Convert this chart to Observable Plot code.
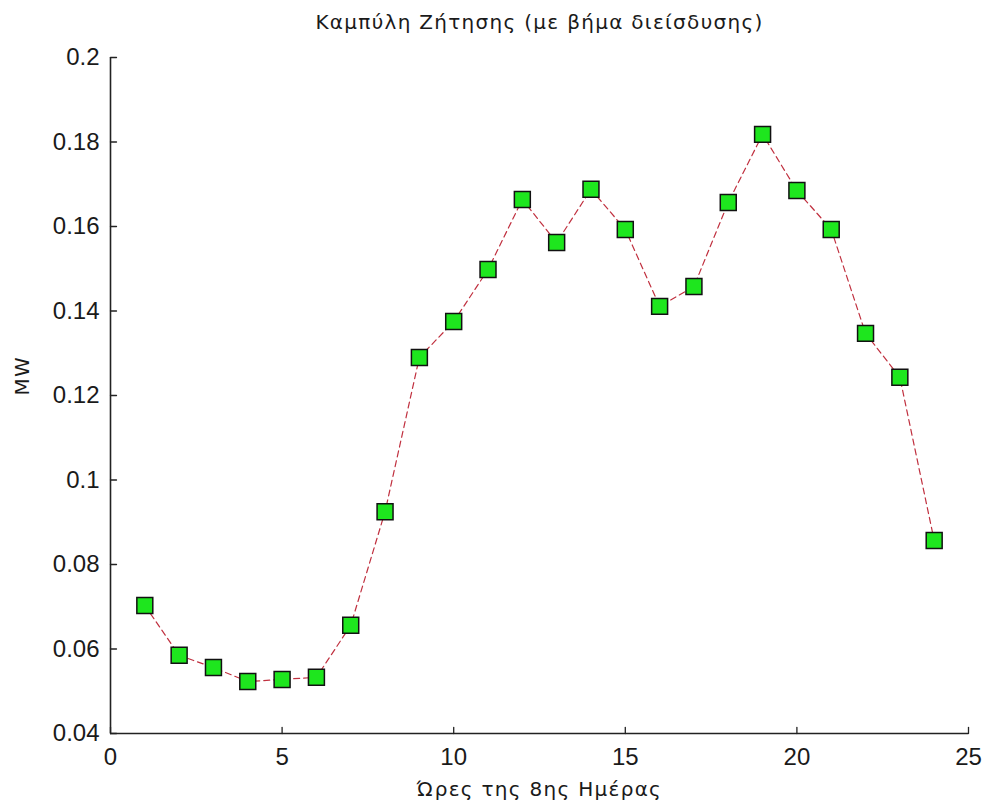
<!DOCTYPE html>
<html>
<head>
<meta charset="utf-8">
<script src="https://cdn.jsdelivr.net/npm/d3@7"></script>
<script src="https://cdn.jsdelivr.net/npm/@observablehq/plot@0.6"></script>
<style>
  html, body { margin: 0; padding: 0; background: #fff; }
  .lbl text { letter-spacing: 1.3px; }
</style>
</head>
<body>
<div id="chart"></div>
<script>
// ---- data ----
const hours = [1, 2, 3, 4, 5, 6, 7, 8, 9, 10, 11, 12, 13, 14, 15, 16, 17, 18, 19, 20, 21, 22, 23, 24];
const demand = [0.0703, 0.0585, 0.0556, 0.0523, 0.0528, 0.0533, 0.0656, 0.0925, 0.1290, 0.1375, 0.1498, 0.1664,
                0.1562, 0.1688, 0.1593, 0.1411, 0.1458, 0.1657, 0.1818, 0.1685, 0.1593, 0.1347, 0.1243, 0.0857];
const xTicks = [0, 5, 10, 15, 20, 25];
const xTickLabels = ["0", "5", "10", "15", "20", "25"];
const yTicks = [0.04, 0.06, 0.08, 0.1, 0.12, 0.14, 0.16, 0.18, 0.2];
const yTickLabels = ["0.04", "0.06", "0.08", "0.1", "0.12", "0.14", "0.16", "0.18", "0.2"];
const xDomain = [0, 25];
const yDomain = [0.04, 0.2];
const titleText = "Καμπύλη Ζήτησης (με βήμα διείσδυσης)";
const xLabelText = "Ώρες της 8ης Ημέρας";
const yLabelText = "MW";

const points = hours.map((h, i) => ({hour: h, mw: demand[i]}));
const font = "'Liberation Sans', Arial, sans-serif";
const labelFont = "'DejaVu Sans', Verdana, sans-serif";
const tickShape = {draw(context, l) { context.moveTo(0, 0); context.lineTo(0, -l); }};

const chart = Plot.plot({
  width: 985,
  height: 810,
  marginLeft: 110,
  marginRight: 17,
  marginTop: 57,
  marginBottom: 77,
  style: {fontFamily: font, color: "#1a1a1a", background: "#fff"},
  x: {domain: xDomain},
  y: {domain: yDomain},
  marks: [
    // axis lines
    Plot.ruleY([yDomain[0]], {stroke: "#222", strokeWidth: 1.6}),
    Plot.ruleX([xDomain[0]], {stroke: "#222", strokeWidth: 1.6}),
    // inward ticks
    Plot.vector(yTicks, {x: () => xDomain[0], y: d => d, rotate: 90, length: 6, anchor: "start", shape: tickShape, stroke: "#222", strokeWidth: 1.3}),
    Plot.vector(xTicks, {x: d => d, y: () => yDomain[0], rotate: 0, length: 6, anchor: "start", shape: tickShape, stroke: "#222", strokeWidth: 1.3}),
    // tick labels
    Plot.axisY({ticks: yTicks, tickFormat: d => yTickLabels[yTicks.indexOf(d)], tickSize: 0, tickPadding: 11, fontSize: 24, label: null}),
    Plot.axisX({ticks: xTicks, tickFormat: d => xTickLabels[xTicks.indexOf(d)], tickSize: 0, tickPadding: 14, fontSize: 24, label: null}),
    // data
    Plot.line(points, {x: "hour", y: "mw", stroke: "#c0303f", strokeWidth: 1.2, strokeDasharray: "6,4"}),
    Plot.dot(points, {x: "hour", y: "mw", symbol: "square", r: 9, fill: "#1ee61e", stroke: "#111", strokeWidth: 1.5}),
    // title and axis labels
    Plot.text([titleText], {frameAnchor: "top", lineAnchor: "middle", dy: -35, fontSize: 20, fontFamily: labelFont, fill: "#1a1a1a", className: "lbl"}),
    Plot.text([xLabelText], {frameAnchor: "bottom", lineAnchor: "middle", dy: 56, fontSize: 20, fontFamily: labelFont, fill: "#1a1a1a", className: "lbl"}),
    Plot.text([yLabelText], {frameAnchor: "left", lineAnchor: "middle", rotate: -90, dx: -88, fontSize: 20, fontFamily: labelFont, fill: "#1a1a1a", className: "lbl"})
  ]
});
document.getElementById("chart").appendChild(chart);
</script>
</body>
</html>
